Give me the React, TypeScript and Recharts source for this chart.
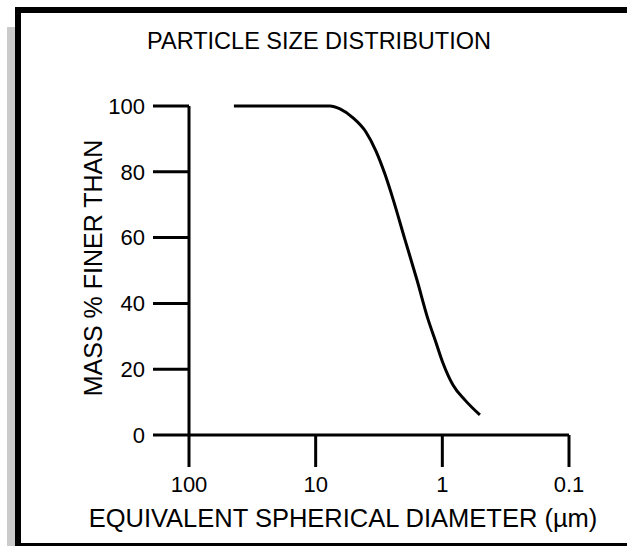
import { LineChart, Line, XAxis, YAxis } from 'recharts'

// equivalent spherical diameter (µm) and cumulative mass % finer
const diameters = [44.2, 7.71, 6.43, 5.07, 4.01, 3.34, 2.84, 2.45, 1.97, 1.585, 1.3, 1.14, 0.989, 0.824, 0.662, 0.505]
const finerPct = [100, 100, 99.1, 96.4, 92.1, 86.3, 79.3, 71.7, 59.3, 47.1, 35.3, 28.9, 21.9, 15.2, 10.6, 6.1]

const xTicks = [100, 10, 1, 0.1]
const yTicks = [0, 20, 40, 60, 80, 100]

const title = 'PARTICLE SIZE DISTRIBUTION'
const xTitle = 'EQUIVALENT SPHERICAL DIAMETER (µm)'
const yTitle = 'MASS % FINER THAN'

const font = '"Liberation Sans", Arial, sans-serif'

export default function App() {
  const data = diameters.map((d, i) => ({ d, pct: finerPct[i] }))
  const tickStyle = { fill: '#000', fontSize: 22, fontFamily: font }
  const lineStyle = { stroke: '#000', strokeWidth: 3 }
  const bar = (left: number, top: number, width: number, height: number, background = '#000') => (
    <div style={{ position: 'absolute', left, top, width, height, background }} />
  )

  return (
    <div style={{ position: 'fixed', left: 0, top: 0, width: 627, height: 546, overflow: 'hidden', background: '#fff' }}>
      {/* drop shadow + frame (right edge runs off the picture) */}
      {bar(7, 27, 8, 519, '#cbcbcb')}
      {bar(15, 7, 612, 6)}
      {bar(15, 7, 6, 539)}
      {bar(15, 543, 612, 3)}

      <div style={{ position: 'absolute', left: 0, width: 638, top: 27, textAlign: 'center', fontFamily: font, fontSize: 23.5, lineHeight: '28px' }}>
        {title}
      </div>
      <div style={{ position: 'absolute', left: 0, width: 686, top: 503, textAlign: 'center', fontFamily: font, fontSize: 25.5, lineHeight: '30px' }}>
        {xTitle}
      </div>
      <div style={{ position: 'absolute', left: 93 - 150, top: 268 - 15, width: 300, height: 30, textAlign: 'center', fontFamily: font, fontSize: 25, lineHeight: '30px', transform: 'rotate(-90deg)' }}>
        {yTitle}
      </div>

      <div style={{ position: 'absolute', left: 0, top: 0 }}>
        <LineChart width={627} height={546} data={data} margin={{ top: 106, right: 58, bottom: 0, left: 0 }}>
          <XAxis
            dataKey="d"
            type="number"
            scale="log"
            domain={[0.1, 100]}
            allowDataOverflow
            reversed
            ticks={xTicks}
            interval={0}
            height={111}
            tickSize={32}
            tickMargin={9}
            tick={tickStyle}
            axisLine={lineStyle}
            tickLine={lineStyle}
            tickFormatter={(v) => `${v}`}
          />
          <YAxis
            type="number"
            domain={[0, 100]}
            ticks={yTicks}
            interval={0}
            width={189}
            tickSize={36}
            tickMargin={8}
            tick={tickStyle}
            axisLine={lineStyle}
            tickLine={lineStyle}
          />
          <Line
            type="monotone"
            dataKey="pct"
            stroke="#000"
            strokeWidth={3}
            dot={false}
            isAnimationActive={false}
          />
        </LineChart>
      </div>
    </div>
  )
}
